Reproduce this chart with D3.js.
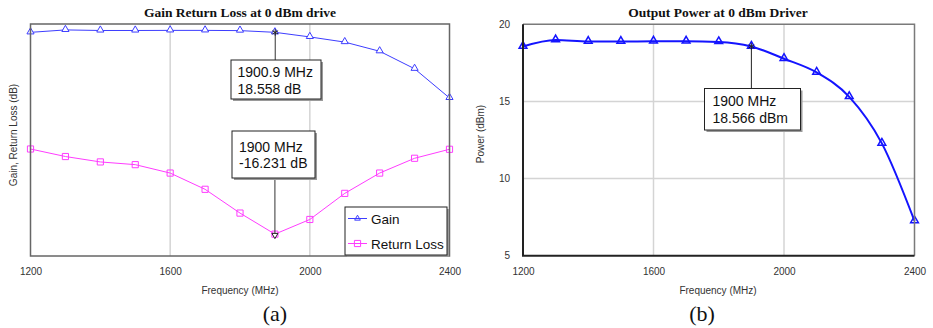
<!DOCTYPE html>
<html>
<head>
<meta charset="utf-8">
<script src="https://cdn.jsdelivr.net/npm/d3@7"></script>
<style>
  html, body { margin: 0; padding: 0; background: #fff; }
  svg text { font-family: "Liberation Sans", Arial, sans-serif; }
</style>
</head>
<body>
<svg id="chart" width="933" height="328"></svg>
<script>
// Swept frequency points (MHz)
const freqs = [1200, 1300, 1400, 1500, 1600, 1700, 1800, 1900, 2000, 2100, 2200, 2300, 2400];
// Gain (dB) with 0 dBm drive — equals output power (dBm)
const gain = [18.56, 18.98, 18.88, 18.88, 18.9, 18.9, 18.86, 18.566, 17.77, 16.88, 15.3, 12.28, 7.25];
// Input return loss (dB)
const returnLoss = [-1.55, -2.85, -3.78, -4.25, -5.7, -8.5, -12.6, -16.231, -13.7, -9.2, -5.7, -3.15, -1.6];
const xTicks = [1200, 1600, 2000, 2400];
const powerTicks = [5, 10, 15, 20];
// Marker readouts
const gainMarker = { f: 1900.9, v: 18.558, lines: ["1900.9 MHz", "18.558 dB"] };
const rlMarker = { f: 1900, v: -16.231, lines: ["1900 MHz", "-16.231 dB"] };
const powMarker = { f: 1900, v: 18.566, lines: ["1900 MHz", "18.566 dBm"] };

const svg = d3.select("#chart");
const BLUE_A = "#3d3dff", MAG = "#ff3cff", BLUE_B = "#1414ff";

const tri = d3.symbol().type(d3.symbolTriangle).size(22);
const sq = d3.symbol().type(d3.symbolSquare).size(38);

function markerBox(g, x0, y0, w, h, lines, textX, baselines) {
  g.append("rect").attr("x", x0 + 2).attr("y", y0 + 2).attr("width", w).attr("height", h)
    .attr("fill", "#9a9a9a");
  g.append("rect").attr("x", x0).attr("y", y0).attr("width", w).attr("height", h)
    .attr("fill", "#fff").attr("stroke", "#222").attr("stroke-width", 1);
  lines.forEach((t, i) => g.append("text").attr("x", textX).attr("y", baselines[i])
    .attr("font-size", 14).attr("fill", "#111").text(t));
}

/* ---------- (a) Gain and return loss ---------- */
{
  const x = d3.scaleLinear().domain([1200, 2400]).range([30.5, 449.5]);
  const y = d3.scaleLinear().domain([-20, 20]).range([256, 24]);
  const g = svg.append("g");

  g.append("text").attr("x", 240).attr("y", 17).attr("text-anchor", "middle")
    .style("font-family", "'Liberation Serif', 'Times New Roman', serif")
    .attr("font-weight", "bold").attr("font-size", 13.5).attr("fill", "#111")
    .text("Gain Return Loss at 0 dBm drive");

  // vertical grid
  g.selectAll(".vg").data(xTicks.slice(1, -1)).join("line")
    .attr("x1", d => x(d)).attr("x2", d => x(d)).attr("y1", y(20)).attr("y2", y(-20))
    .attr("stroke", "#d4d4d4").attr("stroke-width", 1.5);

  const line = d3.line().x((d, i) => x(freqs[i])).y(d => y(d));
  g.append("path").datum(gain).attr("d", line).attr("fill", "none")
    .attr("stroke", BLUE_A).attr("stroke-width", 1);
  g.append("path").datum(returnLoss).attr("d", line).attr("fill", "none")
    .attr("stroke", MAG).attr("stroke-width", 1);

  g.selectAll(".gt").data(gain).join("path")
    .attr("transform", (d, i) => `translate(${x(freqs[i])},${y(d) - 0.5})`)
    .attr("d", tri).attr("fill", "#fff").attr("stroke", BLUE_A).attr("stroke-width", 1);
  g.selectAll(".rs").data(returnLoss).join("path")
    .attr("transform", (d, i) => `translate(${x(freqs[i])},${y(d)})`)
    .attr("d", sq).attr("fill", "none").attr("stroke", MAG).attr("stroke-width", 1);

  // frame
  g.append("rect").attr("x", x(1200)).attr("y", y(20)).attr("width", x(2400) - x(1200))
    .attr("height", y(-20) - y(20)).attr("fill", "none").attr("stroke", "#666").attr("stroke-width", 1.5);

  // markers
  const gx = x(gainMarker.f), gy = y(gainMarker.v);
  g.append("line").attr("x1", gx).attr("x2", gx).attr("y1", gy).attr("y2", 60)
    .attr("stroke", "#333").attr("stroke-width", 1);
  g.append("path").attr("transform", `translate(${gx},${gy})`)
    .attr("d", d3.symbol().type(d3.symbolAsterisk).size(30)).attr("fill", "none")
    .attr("stroke", "#222").attr("stroke-width", 1);
  markerBox(g, 231, 60, 90, 39, gainMarker.lines, 237.5, [77, 93.5]);

  const rx = x(rlMarker.f), ry = y(rlMarker.v);
  g.append("line").attr("x1", rx).attr("x2", rx).attr("y1", 178).attr("y2", ry)
    .attr("stroke", "#333").attr("stroke-width", 1);
  g.append("path").attr("transform", `translate(${rx},${ry + 1}) rotate(180)`)
    .attr("d", d3.symbol().type(d3.symbolTriangle).size(16)).attr("fill", "#fff")
    .attr("stroke", "#222").attr("stroke-width", 1);
  markerBox(g, 232, 131, 83, 47, rlMarker.lines, 239, [152, 167.5]);

  // legend
  const lg = g.append("g");
  lg.append("rect").attr("x", 347).attr("y", 209).attr("width", 102).attr("height", 48).attr("fill", "#9a9a9a");
  lg.append("rect").attr("x", 345).attr("y", 207).attr("width", 102).attr("height", 48)
    .attr("fill", "#fff").attr("stroke", "#222").attr("stroke-width", 1);
  const items = [{ name: "Gain", c: BLUE_A, sym: tri, yy: 218.5 }, { name: "Return Loss", c: MAG, sym: sq, yy: 243.5 }];
  items.forEach(it => {
    lg.append("line").attr("x1", 348).attr("x2", 367).attr("y1", it.yy).attr("y2", it.yy)
      .attr("stroke", it.c).attr("stroke-width", 1);
    lg.append("path").attr("transform", `translate(357.5,${it.yy})`)
      .attr("d", it.name === "Gain" ? d3.symbol().type(d3.symbolTriangle).size(14) : sq)
      .attr("fill", "none").attr("stroke", it.c).attr("stroke-width", 1);
    lg.append("text").attr("x", 371).attr("y", it.yy + 5).attr("font-size", 13.5).attr("fill", "#111").text(it.name);
  });

  // x axis labels
  const ax = g.append("g").attr("transform", `translate(0,${y(-20)})`)
    .call(d3.axisBottom(x).tickValues(xTicks).tickSize(0).tickPadding(12).tickFormat(d3.format("d")));
  ax.select(".domain").remove();
  ax.selectAll("text").attr("font-size", 10).attr("fill", "#333").style("font-family", "'Liberation Sans', Arial, sans-serif");

  g.append("text").attr("x", 240).attr("y", 294).attr("text-anchor", "middle")
    .attr("font-size", 10).attr("fill", "#333").text("Frequency (MHz)");
  g.append("text").attr("transform", "translate(17,135) rotate(-90)").attr("text-anchor", "middle")
    .attr("font-size", 10).attr("fill", "#333").text("Gain, Return Loss (dB)");
  g.append("text").attr("x", 275).attr("y", 321).attr("text-anchor", "middle")
    .style("font-family", "'Liberation Serif', 'Times New Roman', serif")
    .attr("font-size", 22).attr("fill", "#111").text("(a)");
}

/* ---------- (b) Output power ---------- */
{
  const x = d3.scaleLinear().domain([1200, 2400]).range([523, 914.5]);
  const y = d3.scaleLinear().domain([5, 20]).range([255.7, 24.3]);
  const g = svg.append("g");

  g.append("text").attr("x", 718).attr("y", 17).attr("text-anchor", "middle")
    .style("font-family", "'Liberation Serif', 'Times New Roman', serif")
    .attr("font-weight", "bold").attr("font-size", 13.5).attr("fill", "#111")
    .text("Output Power at 0 dBm Driver");

  g.selectAll(".vg").data(xTicks.slice(1, -1)).join("line")
    .attr("x1", d => x(d)).attr("x2", d => x(d)).attr("y1", y(20)).attr("y2", y(5))
    .attr("stroke", "#d4d4d4").attr("stroke-width", 1.5);
  g.selectAll(".hg").data(powerTicks.slice(1, -1)).join("line")
    .attr("x1", x(1200)).attr("x2", x(2400)).attr("y1", d => y(d)).attr("y2", d => y(d))
    .attr("stroke", "#d4d4d4").attr("stroke-width", 1.5);

  const line = d3.line().x((d, i) => x(freqs[i])).y(d => y(d)).curve(d3.curveMonotoneX);
  g.append("path").datum(gain).attr("d", line).attr("fill", "none")
    .attr("stroke", BLUE_B).attr("stroke-width", 2);
  g.selectAll(".pt").data(gain).join("path")
    .attr("transform", (d, i) => `translate(${x(freqs[i])},${y(d) - 0.5})`)
    .attr("d", d3.symbol().type(d3.symbolTriangle).size(26)).attr("fill", "none")
    .attr("stroke", BLUE_B).attr("stroke-width", 1.5);

  // frame: light top/right, dark left/bottom
  g.append("path").attr("d", `M${x(1200)},${y(20)}H${x(2400)}V${y(5)}`)
    .attr("fill", "none").attr("stroke", "#7a7a7a").attr("stroke-width", 1.5);
  g.append("path").attr("d", `M${x(1200)},${y(20)}V${y(5)}H${x(2400)}`)
    .attr("fill", "none").attr("stroke", "#222").attr("stroke-width", 2);

  const px = x(powMarker.f), py = y(powMarker.v);
  g.append("line").attr("x1", px).attr("x2", px).attr("y1", py).attr("y2", 88.5)
    .attr("stroke", "#222").attr("stroke-width", 1);
  g.append("path").attr("transform", `translate(${px},${py})`)
    .attr("d", d3.symbol().type(d3.symbolAsterisk).size(30)).attr("fill", "none")
    .attr("stroke", "#222").attr("stroke-width", 1);
  markerBox(g, 704.5, 88.5, 96, 41.5, powMarker.lines, 712.5, [106, 123]);

  const ax = g.append("g").attr("transform", `translate(0,${y(5)})`)
    .call(d3.axisBottom(x).tickValues(xTicks).tickSize(0).tickPadding(12).tickFormat(d3.format("d")));
  ax.select(".domain").remove();
  ax.selectAll("text").attr("font-size", 10).attr("fill", "#333").style("font-family", "'Liberation Sans', Arial, sans-serif");

  const ay = g.append("g").attr("transform", `translate(${x(1200)},0)`)
    .call(d3.axisLeft(y).tickValues(powerTicks).tickSize(0).tickPadding(13).tickFormat(d3.format("d")));
  ay.select(".domain").remove();
  ay.selectAll("text").attr("font-size", 10).attr("fill", "#333").style("font-family", "'Liberation Sans', Arial, sans-serif");

  g.append("text").attr("x", 718).attr("y", 294).attr("text-anchor", "middle")
    .attr("font-size", 10).attr("fill", "#333").text("Frequency (MHz)");
  g.append("text").attr("transform", "translate(484,134) rotate(-90)").attr("text-anchor", "middle")
    .attr("font-size", 10).attr("fill", "#333").text("Power (dBm)");
  g.append("text").attr("x", 702).attr("y", 321).attr("text-anchor", "middle")
    .style("font-family", "'Liberation Serif', 'Times New Roman', serif")
    .attr("font-size", 22).attr("fill", "#111").text("(b)");
}
</script>
</body>
</html>
